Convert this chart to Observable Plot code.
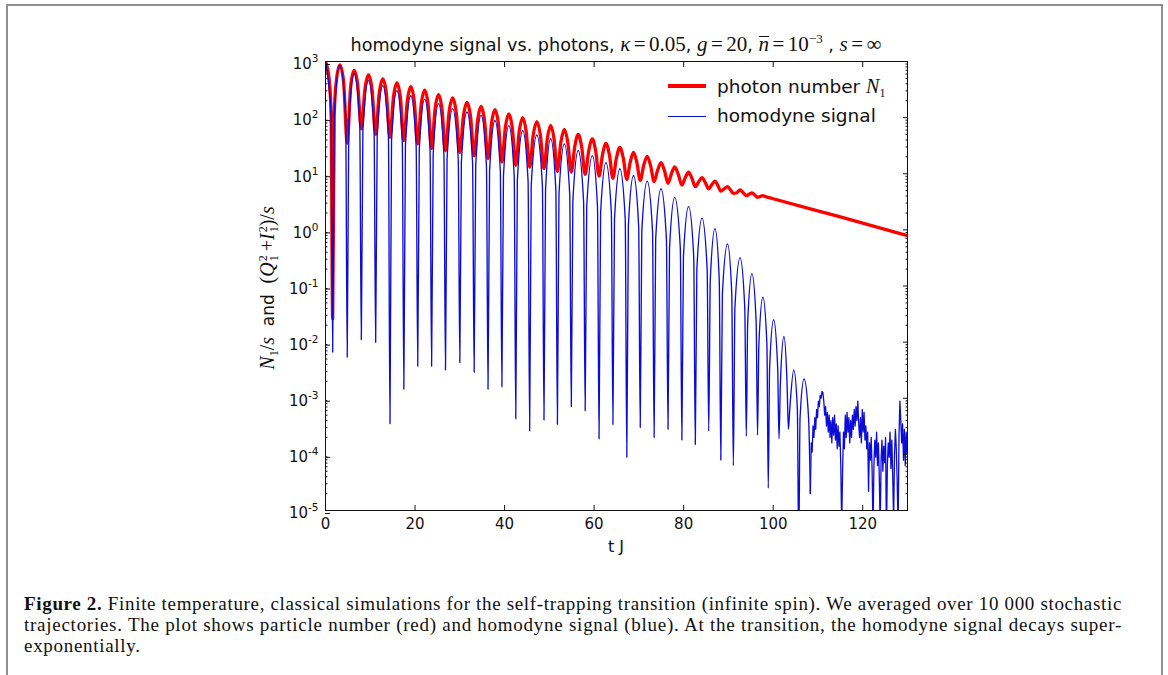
<!DOCTYPE html>
<html>
<head>
<meta charset="utf-8">
<script src="https://cdn.jsdelivr.net/npm/d3@7"></script>
<script src="https://cdn.jsdelivr.net/npm/@observablehq/plot@0.6"></script>
<style>
  html, body { margin:0; padding:0; background:#fff; overflow:hidden; }
  #page { position:relative; width:1168px; height:675px; overflow:hidden; font-family:"DejaVu Sans", sans-serif; color:#111; }
  #box { position:absolute; left:6px; top:4px; width:1157px; height:760px; border:2px solid #8e8e8e; box-sizing:border-box; }
  #chart { position:absolute; left:0; top:0; }
  .m { font-family:"Liberation Serif", "DejaVu Serif", serif; font-style:normal; }
  .mi { font-family:"Liberation Serif", "DejaVu Serif", serif; font-style:italic; }
  #title { position:absolute; left:325px; width:582px; top:33px; line-height:22px; text-align:center; font-size:17.6px; white-space:nowrap; }
  #title .m, #title .mi { font-size:21px; }
  #title sup { font-size:13px; vertical-align:8px; line-height:0; }
  .ov { display:inline-block; border-top:1.2px solid #111; line-height:13px; padding-top:1px; }
  #xlab { position:absolute; left:325px; width:582px; top:537px; text-align:center; font-size:16px; line-height:20px; }
  #ylab { position:absolute; left:268px; top:288px; transform:translate(-50%,-50%) rotate(-90deg); white-space:nowrap; font-size:17px; line-height:20px; }
  #ylab .m, #ylab .mi { font-size:20px; }
  .ss { display:inline-flex; flex-direction:column; vertical-align:middle; font-size:12px; line-height:11px; font-family:"Liberation Serif", serif; margin-left:1px; }
  .sub1 { font-size:12px; vertical-align:-4px; line-height:0; font-family:"Liberation Serif", serif; }
  .leg { position:absolute; }
  .legtext { position:absolute; left:717px; font-size:18.5px; line-height:24px; white-space:nowrap; }
  .legtext .mi { font-size:20px; }
  #caption { position:absolute; left:24px; width:1098px; top:593px; font-family:"Liberation Serif", "DejaVu Serif", serif; font-size:19px; line-height:21px; color:#111; }
  #caption .ln { white-space:nowrap; }
</style>
</head>
<body>
<div id="page">
  <div id="box"></div>
  <div id="chart"></div>
  <div id="title">homodyne signal vs. photons, <span class="mi">κ</span><span class="m">&#8198;=&#8198;0.05</span>, <span class="mi">g</span><span class="m">&#8198;=&#8198;20</span>, <span class="mi ov">n</span><span class="m">&#8198;=&#8198;10<sup>−3</sup></span> , <span class="mi">s</span><span class="m">&#8198;=&#8198;∞</span></div>
  <div id="xlab">t J</div>
  <div id="ylab"><span class="mi">N</span><span class="sub1">1</span><span class="m">/</span><span class="mi">s</span>&nbsp; and &nbsp;<span class="m">(</span><span class="mi">Q</span><span class="ss"><span>2</span><span>1</span></span><span class="m">&#8201;+</span><span class="mi">I</span><span class="ss"><span>2</span><span>1</span></span><span class="m">)/</span><span class="mi">s</span></div>
  <div class="leg" style="left:668px; top:84px; width:38px; height:3.6px; background:#ff0000;"></div>
  <div class="legtext" style="top:74px;">photon number <span class="mi">N</span><span class="sub1">1</span></div>
  <div class="leg" style="left:668px; top:115.5px; width:38px; height:1.4px; background:#0c0cd8;"></div>
  <div class="legtext" style="top:104px;">homodyne signal</div>
  <div id="caption">
    <div class="ln"><span class="fit"><b>Figure 2.</b> Finite temperature, classical simulations for the self-trapping transition (infinite spin). We averaged over 10 000 stochastic</span></div>
    <div class="ln"><span class="fit">trajectories. The plot shows particle number (red) and homodyne signal (blue). At the transition, the homodyne signal decays super-</span></div>
    <div class="ln"><span class="fit last">exponentially.</span></div>
  </div>
</div>
<script>
// ---------- data ----------
const xTicks = [0, 20, 40, 60, 80, 100, 120];
const yTickExponents = [-5, -4, -3, -2, -1, 0, 1, 2, 3];

// homodyne signal (blue): arches between dips
const homodyneT = [
  0, 1.25, 1.6,
  1.95, 3.2, 4.5, 4.85,
  5.2, 6.4, 7.65, 8.0,
  8.35, 9.6, 10.85, 11.2,
  11.55, 12.8, 14.05, 14.4,
  14.75, 15.95, 17.15, 17.5,
  17.85, 19.05, 20.25, 20.6,
  20.95, 22.15, 23.35, 23.7,
  24.05, 25.25, 26.45, 26.8,
  27.15, 28.4, 29.65, 30.0,
  30.35, 31.6, 32.85, 33.2,
  33.55, 34.75, 35.95, 36.3,
  36.65, 37.85, 39.05, 39.4,
  39.75, 40.95, 42.15, 42.5,
  42.85, 44.05, 45.25, 45.6,
  45.95, 47.2, 48.45, 48.8,
  49.15, 50.3, 51.45, 51.8,
  52.15, 53.35, 54.55, 54.9,
  55.25, 56.45, 57.65, 58.0,
  58.35, 59.6, 60.75, 61.1,
  61.45, 62.65, 63.85, 64.2,
  64.55, 65.75, 66.95, 67.3,
  67.65, 68.8, 69.95, 70.3,
  70.65, 71.85, 73.05, 73.4,
  73.75, 74.95, 76.15, 76.5,
  76.85, 78.0, 79.25, 79.6,
  79.95, 81.1, 82.25, 82.6,
  82.95, 84.1, 85.25, 85.6,
  85.95, 87.0, 87.95, 88.3,
  88.65, 89.8, 90.75, 91.1,
  91.45, 92.6, 93.65, 94.0,
  94.3, 95.25, 96.2, 96.5,
  96.8, 97.7, 98.6, 98.9,
  99.2, 100.1, 101.0, 101.3,
  101.6, 102.4, 103.1, 103.4,
  103.7, 104.6, 105.4, 105.7,
  106.0, 106.9, 107.9, 108.3
];
const homodyneV = [
  950, 110, 6.6e-3,
  107, 851, 107, 5.4e-3,
  76, 603, 76, 1.1e-2,
  58, 457, 58, 9.8e-3,
  47, 372, 47, 3.5e-4,
  38, 302, 38, 1.45e-3,
  31, 245, 31, 3.7e-3,
  27, 214, 27, 3.7e-3,
  22, 178, 22, 3.2e-3,
  18, 145, 18, 4.3e-3,
  16, 126, 16, 2.9e-3,
  13.8, 110, 13.8, 1.45e-3,
  11.2, 89, 11.2, 1.6e-3,
  9.1, 72, 9.1, 4.3e-4,
  7.4, 59, 7.4, 2.6e-4,
  6.2, 49, 6.2, 4.1e-4,
  5.2, 42, 5.2, 3.4e-4,
  4.3, 34, 4.3, 7.1e-4,
  3.2, 26, 3.2, 6.0e-4,
  2.6, 21, 2.6, 1.9e-4,
  2.0, 15.8, 2.0, 3.4e-4,
  1.55, 12.3, 1.55, 8.9e-5,
  1.17, 9.3, 1.17, 3.0e-4,
  0.93, 7.4, 0.93, 2.0e-4,
  0.68, 5.4, 0.68, 2.8e-4,
  0.48, 3.8, 0.48, 1.8e-4,
  0.33, 2.6, 0.33, 1.5e-4,
  0.20, 1.62, 0.20, 2.6e-4,
  0.13, 1.05, 0.13, 7.9e-5,
  0.071, 0.56, 0.071, 6.3e-5,
  0.041, 0.32, 0.041, 2.1e-4,
  0.022, 0.166, 0.022, 2.2e-4,
  8.9e-3, 0.063, 8.9e-3, 2.5e-5,
  3.5e-3, 0.025, 3.5e-3, 1.9e-4,
  1.8e-3, 1.26e-2, 1.8e-3, 2.8e-4,
  6.3e-4, 3.2e-3, 6.3e-4, 2e-6,
  4.5e-4, 2.2e-3, 4.5e-4, 2.0e-5
];

// homodyne signal (blue): noisy tail after the transition
const homodyneTailT = [
  108.3, 108.5, 108.7, 108.9, 109.1, 109.3, 109.5, 109.7, 109.9, 110.1,
  110.3, 110.5, 110.7, 110.9, 111.1, 111.3, 111.5, 111.7, 111.9, 112.1,
  112.3, 112.5, 112.7, 112.9, 113.1, 113.3, 113.5, 113.7, 113.9, 114.1,
  114.3, 114.5, 114.7, 114.9, 115.1, 115.3, 115.5, 115.7, 115.9, 116.1,
  116.3, 116.5, 116.7, 116.9, 117.1, 117.3, 117.5, 117.7, 117.9, 118.1,
  118.3, 118.5, 118.7, 118.9, 119.1, 119.3, 119.5, 119.7, 119.9, 120.1,
  120.3, 120.5, 120.7, 120.9, 121.1, 121.3, 121.5, 121.7, 121.9, 122.1,
  122.3, 122.5, 122.7, 122.9, 123.1, 123.3, 123.5, 123.7, 123.9, 124.1,
  124.3, 124.5, 124.7, 124.9, 125.1, 125.3, 125.5, 125.7, 125.9, 126.1,
  126.3, 126.5, 126.7, 126.9, 127.1, 127.3, 127.5, 127.7, 127.9, 128.1,
  128.3, 128.5, 128.7, 128.9, 129.1, 129.3, 129.5, 129.7, 129.9, 130.0
];
const homodyneTailV = [
  2.0e-5, 1.6e-4, 1.1e-4, 3.2e-4, 2.0e-4, 4.5e-4, 2.8e-4, 6.3e-4, 4.5e-4, 8.9e-4,
  7.1e-4, 1.12e-3, 1.0e-3, 1.32e-3, 1.26e-3, 8.9e-4, 5.0e-4, 7.1e-4, 3.2e-4, 5.6e-4,
  2.5e-4, 5.0e-4, 2.0e-4, 4.0e-4, 1.6e-4, 4.5e-4, 2.2e-4, 5.0e-4, 1.8e-4, 3.5e-4,
  1.26e-4, 3.2e-4, 1.4e-4, 2.5e-4, 6.3e-5, 5.0e-6, 5.0e-5, 2.5e-4, 1.26e-4, 5.0e-4,
  2.0e-4, 5.6e-4, 2.5e-4, 4.5e-4, 1.6e-4, 4.0e-4, 2.0e-4, 5.0e-4, 2.8e-4, 6.3e-4,
  3.2e-4, 7.1e-4, 4.0e-4, 8.9e-4, 3.5e-4, 2.0e-4, 4.5e-4, 1.6e-4, 6.3e-4, 2.5e-4,
  5.6e-4, 1.8e-4, 3.2e-4, 1.26e-4, 2.5e-4, 2.2e-5, 1.6e-4, 7.9e-5, 2.0e-4, 5.0e-5,
  4.0e-6, 6.3e-5, 1.8e-4, 8.9e-5, 2.5e-4, 6.3e-5, 1.6e-4, 4.0e-5, 5.0e-6, 7.9e-5,
  1.8e-4, 5.0e-5, 1.4e-4, 7.1e-5, 2.0e-4, 3.2e-6, 6.3e-5, 1.6e-4, 8.9e-5, 2.5e-4,
  5.6e-5, 1.8e-4, 4.0e-5, 6.3e-6, 1.0e-4, 2.8e-4, 1.26e-4, 3.2e-5, 4.0e-6, 2.0e-4,
  8.9e-4, 4.0e-4, 1.6e-4, 3.5e-4, 7.9e-5, 2.8e-4, 6.3e-5, 2.5e-4, 1.0e-4, 2.0e-4
];

// photon number N1 (red)
const photonT = [
  0, 0.8, 1.25, 1.6, 1.95, 2.4, 3.2,
  4.025, 4.85, 5.625, 6.4,
  7.2, 8.0, 8.8, 9.6,
  10.4, 11.2, 12.0, 12.8,
  13.6, 14.4, 15.175, 15.95,
  16.725, 17.5, 18.275, 19.05,
  19.825, 20.6, 21.375, 22.15,
  22.925, 23.7, 24.475, 25.25,
  26.025, 26.8, 27.6, 28.4,
  29.2, 30.0, 30.8, 31.6,
  32.4, 33.2, 33.975, 34.75,
  35.525, 36.3, 37.075, 37.85,
  38.625, 39.4, 40.175, 40.95,
  41.725, 42.5, 43.275, 44.05,
  44.825, 45.6, 46.4, 47.2,
  48.0, 48.8, 49.55, 50.3,
  51.05, 51.8, 52.575, 53.35,
  54.125, 54.9, 55.675, 56.45,
  57.225, 58.0, 58.8, 59.6,
  60.35, 61.1, 61.875, 62.65,
  63.425, 64.2, 64.975, 65.75,
  66.525, 67.3, 68.05, 68.8,
  69.55, 70.3, 71.075, 71.85,
  72.625, 73.4, 74.175, 74.95,
  75.725, 76.5, 77.25, 78.0,
  78.8, 79.6, 80.35, 81.1,
  81.85, 82.6, 83.35, 84.1,
  84.85, 85.6, 86.3, 87.0,
  87.65, 88.3, 89.05, 89.8,
  90.45, 91.1, 91.85, 92.6,
  93.3, 94.0, 94.625, 95.25,
  95.875, 96.5, 97.1, 97.7,
  98.3, 98.9,
  100.0, 115, 130
];
const photonV = [
  1000, 501, 115, 0.026, 110, 437, 871,
  453, 35, 363, 692,
  378, 63.1, 319, 575,
  313, 50.1, 270, 490,
  267, 44.7, 231, 417,
  228, 38.9, 197, 355,
  195, 33.9, 171, 309,
  169, 28.2, 143, 257,
  141, 25.7, 125, 224,
  124, 24.0, 105, 186,
  104, 20.9, 89.5, 158,
  88.5, 18.6, 78.2, 138,
  77.1, 16.2, 66.8, 117,
  65.8, 14.1, 57.0, 100,
  56.5, 13.2, 49.1, 85.1,
  48.6, 12.3, 42.4, 72.4,
  41.7, 11.0, 36.3, 61.7,
  36.2, 10.7, 30.4, 50.1,
  29.9, 9.77, 25.7, 41.7,
  25.4, 9.12, 21.9, 34.7,
  21.5, 8.32, 18.9, 29.5,
  18.8, 7.94, 16.0, 24.0,
  15.8, 7.59, 14.0, 20.4,
  13.8, 7.24, 11.5, 15.8,
  11.3, 6.76, 9.98, 13.2,
  9.75, 6.31, 8.51, 10.7,
  8.30, 5.89, 7.19, 8.51,
  6.93, 5.37, 6.40, 7.41,
  6.15, 4.90, 5.40, 5.89,
  5.18, 4.47, 4.60, 5.13,
  4.60, 4.07, 4.33, 4.57,
  4.19, 3.80, 3.94, 4.07,
  3.92, 3.80,
  3.59, 1.70, 0.79
];

// ---------- build tables ----------
function zip(ts, vs, name) {
  if (ts.length !== vs.length) throw new Error(name + " length mismatch " + ts.length + " vs " + vs.length);
  return ts.map((t, i) => ({t, v: vs[i]}));
}
const homodyne = zip(homodyneT, homodyneV, "homodyne");
const homodyneTail = zip(homodyneTailT, homodyneTailV, "homodyneTail");
const photon = zip(photonT, photonV, "photon");

const yMajor = yTickExponents.map(e => Math.pow(10, e));
const yMinor = d3.scaleLog().domain([1e-5, 1e3]).ticks()
  .filter(d => Math.abs(Math.log10(d) - Math.round(Math.log10(d))) > 1e-6);

const blue = "#0c0cd8";
const chart = Plot.plot({
  width: 1168,
  height: 560,
  marginLeft: 325,
  marginRight: 261,
  marginTop: 61,
  marginBottom: 50,
  x: {domain: [0, 130]},
  y: {type: "log", domain: [1e-5, 1e3]},
  style: {fontFamily: "DejaVu Sans", fontSize: "15px", color: "#111", background: "transparent", overflow: "visible"},
  marks: [
    Plot.line(photon, {x: "t", y: "v", stroke: "#ff0000", strokeWidth: 3.3, curve: "monotone-x", clip: true}),
    Plot.line(homodyne, {x: "t", y: "v", stroke: blue, strokeWidth: 1.35, curve: "monotone-x", clip: true}),
    Plot.line(homodyneTail, {x: "t", y: "v", stroke: blue, strokeWidth: 1.3, curve: "linear", clip: true}),
    Plot.frame({stroke: "#111", strokeWidth: 1}),
    Plot.axisX({ticks: xTicks, tickSize: -5, tickPadding: 13, tickFormat: d => String(d), label: null}),
    Plot.axisX({anchor: "top", ticks: xTicks, tickSize: -5, tickFormat: () => "", label: null}),
    Plot.axisY({ticks: yMajor, tickSize: -5, tickPadding: 12, dy: 3, tickFormat: d => "10^" + Math.round(Math.log10(d)), label: null}),
    Plot.axisY({ticks: yMinor, tickSize: -2.5, tickFormat: () => "", label: null}),
    Plot.axisY({anchor: "right", ticks: yMajor, tickSize: -5, tickFormat: () => "", label: null}),
    Plot.axisY({anchor: "right", ticks: yMinor, tickSize: -2.5, tickFormat: () => "", label: null})
  ]
});
document.getElementById("chart").appendChild(chart);

// turn "10^n" tick labels into base + superscript
d3.select(chart).selectAll("text").each(function() {
  const m = /^10\^(-?\d+)$/.exec(this.textContent);
  if (!m) return;
  const el = d3.select(this);
  el.text(null);
  el.append("tspan").text("10");
  el.append("tspan").attr("dy", "-7").attr("font-size", "10.5px").text(m[1]);
});

// fit caption lines to the text block width (letter spacing)
const fits = Array.from(document.querySelectorAll("#caption .fit"));
const target = 1098;
let spacings = [];
fits.forEach(s => {
  if (s.classList.contains("last")) return;
  const w = s.getBoundingClientRect().width;
  const n = s.textContent.length;
  const ls = (target - w) / n;
  s.style.letterSpacing = ls + "px";
  spacings.push(ls);
});
const avg = spacings.reduce((a, b) => a + b, 0) / spacings.length;
fits.filter(s => s.classList.contains("last")).forEach(s => s.style.letterSpacing = avg + "px");
</script>
</body>
</html>
